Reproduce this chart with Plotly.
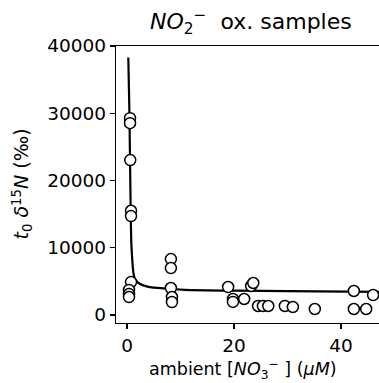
import plotly.graph_objects as go

# scatter samples: ambient nitrate (uM) and t0 d15N
sample_x = [0.56, 0.56, 0.6, 0.75, 0.75, 0.75, 0.37, 0.37, 0.37,
            8.2, 8.2, 8.2, 8.4, 8.4,
            18.9, 19.8, 19.8, 21.9, 23.2, 23.6,
            24.5, 25.4, 26.4, 29.5, 31.0, 35.1,
            42.4, 42.4, 44.7, 46.0]
sample_y = [29270, 28530, 23030, 15500, 14710, 4900, 3720, 3120, 2670,
            8320, 6980, 4010, 2670, 1930,
            4160, 2380, 1950, 2380, 4310, 4760,
            1340, 1340, 1340, 1340, 1190, 890,
            3570, 890, 890, 2970]

# fitted curve
curve_x = [0.24, 0.43, 0.56, 0.69, 0.80, 0.93, 0.99, 1.18, 1.50, 2.43, 3.98, 7.1, 10.8, 20.0, 30.0, 47.5]
curve_y = [38280, 30840, 23050, 15120, 10800, 8830, 8080, 6330, 5340, 4600, 4190, 3940, 3750, 3620, 3540, 3450]

x_ticks = [0, 20, 40]
y_ticks = [0, 10000, 20000, 30000, 40000]

FONT = "DejaVu Sans"
TICK = 18.5

fig = go.Figure()
fig.add_trace(go.Scatter(x=curve_x, y=curve_y, mode="lines",
                         line=dict(color="black", width=2.2, shape="spline", smoothing=0.6),
                         showlegend=False, hoverinfo="skip"))
fig.add_trace(go.Scatter(x=sample_x, y=sample_y, mode="markers",
                         marker=dict(size=11, color="white", line=dict(color="black", width=1.5)),
                         showlegend=False))

fig.update_layout(
    width=379, height=383, autosize=False,
    margin=dict(l=116, r=0, t=46, b=60, pad=0),
    paper_bgcolor="white", plot_bgcolor="white",
    font=dict(family=FONT, size=17, color="black"),
    xaxis=dict(range=[-2.06, 47.1], tickvals=x_ticks, ticktext=[str(v) for v in x_ticks],
               showgrid=False, zeroline=False, showline=True, linecolor="black", linewidth=1.3,
               mirror=True, ticks="outside", ticklen=5, tickwidth=1.2, tickcolor="black",
               tickfont=dict(size=TICK, family=FONT)),
    yaxis=dict(range=[-1190, 40000], tickvals=y_ticks, ticktext=[str(v) for v in y_ticks],
               showgrid=False, zeroline=False, showline=True, linecolor="black", linewidth=1.3,
               mirror=False, ticks="outside", ticklen=5, tickwidth=1.2, tickcolor="black",
               tickfont=dict(size=TICK, family=FONT)),
    annotations=[
        dict(text="<i>NO</i><sub>2</sub><sup>−</sup>  ox. samples", xref="paper", yref="paper",
             x=(251 - 116) / 263, y=1, yshift=24, xanchor="center", yanchor="middle",
             showarrow=False, font=dict(size=22, family=FONT)),
        dict(text="ambient [<i>NO</i><sub>3</sub><sup>−</sup> ] (<i>μM</i>)", xref="paper", yref="paper",
             x=(243 - 116) / 263, y=0, yshift=-46, xanchor="center", yanchor="middle",
             showarrow=False, font=dict(size=17.5, family=FONT)),
        dict(text="<i>t</i><sub>0</sub> <i>δ</i><sup>15</sup><i>N</i> (‰)", xref="paper", yref="paper",
             x=0, xshift=-94, y=0.5, xanchor="center", yanchor="middle", textangle=-90,
             showarrow=False, font=dict(size=19, family=FONT)),
    ],
)

fig.write_html("out.html", config={"displayModeBar": False, "staticPlot": True},
               post_script="document.body.style.margin='0';document.body.style.overflow='hidden';")
